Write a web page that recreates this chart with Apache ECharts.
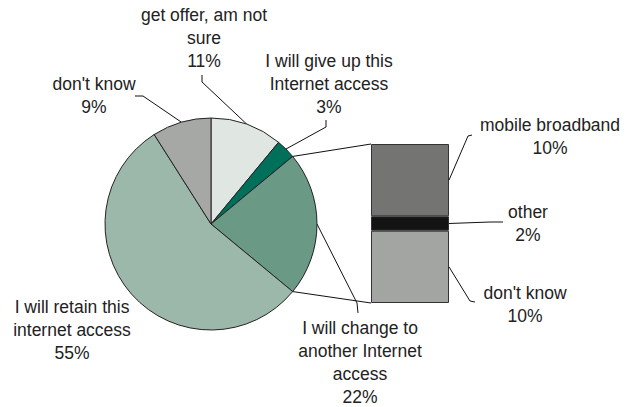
<!DOCTYPE html>
<html><head><meta charset="utf-8">
<script src="https://cdn.jsdelivr.net/npm/echarts@6/dist/echarts.min.js"></script>
<style>html,body{margin:0;padding:0;background:#fff}#c{width:627px;height:407px}</style>
</head><body><div id="c"></div>
<script>
// ---- data ----
const pieNames = ["get offer, am not\nsure", "I will give up this\nInternet access", "I will change to\nanother Internet\naccess", "I will retain this\ninternet access", "don't know"];
const pieValues = [11, 3, 22, 55, 9];
const pieColors = ["#e0e6e2", "#00705a", "#6a9a86", "#9cb8aa", "#a6a8a6"];
const barNames = ["mobile broadband", "other", "don't know"];   // top to bottom
const barValues = [10, 2, 10];
const barColors = ["#747472", "#141414", "#a3a5a3"];
const explodedIndex = 2; // "I will change to another Internet access"

// ---- layout (styling) ----
const CX = 211, CY = 224, R = 106;
const BAR = {left: 371, top: 144, width: 78, height: 159};
const FONT = {fontFamily: "Liberation Sans, Arial, sans-serif", fontSize: 17.5, lineHeight: 23, color: "#222"};
// label centre positions and leader bends (styling)
const pieLabelPos = [
  {x: 204, y: 38, line: [[202, 82], [202, 75]]},
  {x: 329, y: 84, line: [[326, 127], [326, 120]]},
  {x: 360, y: 362, line: [[357, 303], [358, 313]]},
  {x: 72, y: 330, line: null},
  {x: 94, y: 95, line: [[143, 96], [135, 96]]}
];
const barLabelPos = [
  {x: 550, y: 136, line: [[468, 136], [472, 135]]},
  {x: 528, y: 223, line: [[490, 222], [503, 222]]},
  {x: 525, y: 304, line: [[470, 301], [475, 302]]}
];

const chart = echarts.init(document.getElementById('c'), null, {renderer: 'svg'});
const total = pieValues.reduce((a, b) => a + b, 0);
const barTotal = barValues.reduce((a, b) => a + b, 0);

// bar series: ECharts stacks bottom-up, so reverse order
const barSeries = [];
for (let k = barNames.length - 1; k >= 0; k--) {
  const pos = barLabelPos[k];
  barSeries.push({
    type: 'bar', name: barNames[k], stack: 's', barWidth: '100%',
    xAxisIndex: 0, yAxisIndex: 0,
    data: [barValues[k]],
    itemStyle: {color: barColors[k], borderColor: '#333', borderWidth: 1},
    label: Object.assign({show: true, position: 'right', align: 'center', overflow: 'none',
      formatter: p => p.seriesName + '\n' + p.value + '%'}, FONT),
    labelLayout: function () {
      return {x: pos.x, y: pos.y, align: 'center', verticalAlign: 'middle'};
    },
    emphasis: {disabled: true}, silent: true
  });
}

const option = {
  animation: false,
  grid: {left: BAR.left, top: BAR.top, width: BAR.width, height: BAR.height},
  xAxis: {type: 'category', data: [''], show: false},
  yAxis: {type: 'value', min: 0, max: barTotal, show: false},
  series: [{
    type: 'pie', center: [CX, CY], radius: R, startAngle: 90, clockwise: true,
    data: pieNames.map((n, i) => ({
      name: n, value: pieValues[i], itemStyle: {color: pieColors[i]},
      labelLine: {show: !!pieLabelPos[i].line}
    })),
    itemStyle: {borderColor: '#222', borderWidth: 1},
    label: Object.assign({show: true, position: 'outside', align: 'center', overflow: 'none',
      formatter: p => p.name + '\n' + p.value + '%'}, FONT),
    labelLine: {show: true, lineStyle: {color: '#111', width: 1}},
    labelLayout: function (params) {
      const pos = pieLabelPos[params.dataIndex];
      const o = {x: pos.x, y: pos.y, align: 'center', verticalAlign: 'middle'};
      if (pos.line && params.labelLinePoints) {
        o.labelLinePoints = [params.labelLinePoints[0], pos.line[0], pos.line[1]];
      }
      return o;
    },
    emphasis: {disabled: true}, silent: true
  }].concat(barSeries)
};
chart.setOption(option);

// connector lines from the exploded slice's edges to the bar's corners
let before = 0;
for (let i = 0; i < explodedIndex; i++) before += pieValues[i];
const a1 = before / total * 2 * Math.PI;
const a2 = (before + pieValues[explodedIndex]) / total * 2 * Math.PI;
const p1 = [CX + R * Math.sin(a1), CY - R * Math.cos(a1)];
const p2 = [CX + R * Math.sin(a2), CY - R * Math.cos(a2)];
const topLeft = chart.convertToPixel({gridIndex: 0}, [0, barTotal]);
const botLeft = chart.convertToPixel({gridIndex: 0}, [0, 0]);
const bx = BAR.left, bxr = BAR.left + BAR.width;
const graphics = [
  {type: 'line', shape: {x1: p1[0], y1: p1[1], x2: bx, y2: topLeft[1]}, style: {stroke: '#111', lineWidth: 1}, z: 10},
  {type: 'line', shape: {x1: p2[0], y1: p2[1], x2: bx, y2: botLeft[1]}, style: {stroke: '#111', lineWidth: 1}, z: 10}
];
// leader lines for bar segments, starting at each segment's right-edge middle
let cum = barTotal;
for (let k = 0; k < barNames.length; k++) {
  const yTop = chart.convertToPixel({gridIndex: 0}, [0, cum])[1];
  const yBot = chart.convertToPixel({gridIndex: 0}, [0, cum - barValues[k]])[1];
  cum -= barValues[k];
  const start = [bxr, (yTop + yBot) / 2];
  const pts = [start].concat(barLabelPos[k].line);
  graphics.push({type: 'polyline', shape: {points: pts}, style: {stroke: '#111', lineWidth: 1, fill: null}, z: 10});
}
chart.setOption({graphic: graphics});
</script></body></html>
